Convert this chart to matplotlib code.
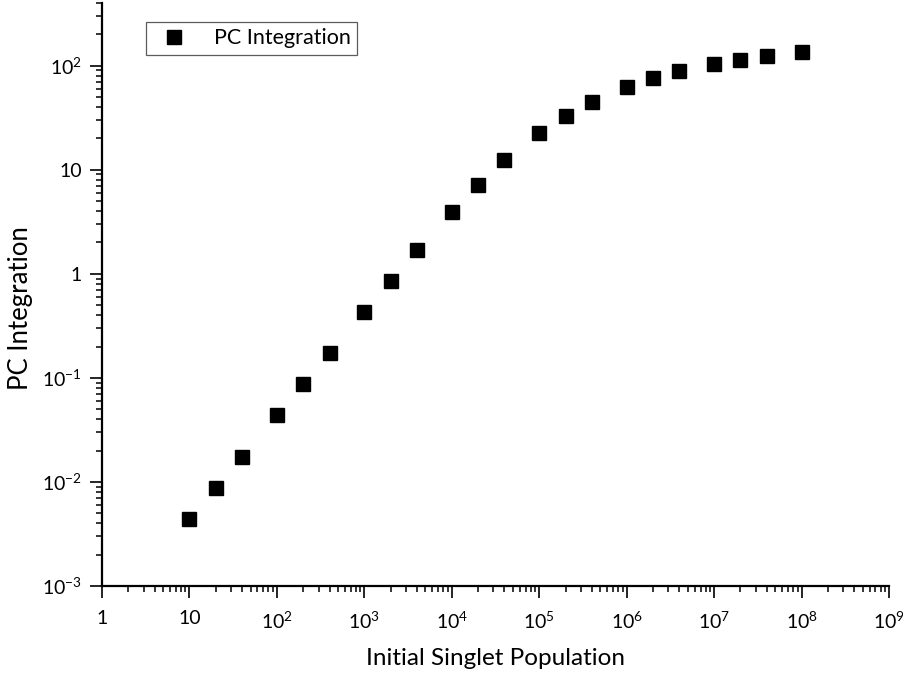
import math
import matplotlib
matplotlib.use("Agg")
import matplotlib.pyplot as plt
from matplotlib.ticker import LogLocator, FuncFormatter, NullFormatter, FixedLocator

plt.rcParams['font.family'] = ['Lato', 'DejaVu Sans']
plt.rcParams['mathtext.fontset'] = 'custom'
plt.rcParams['mathtext.rm'] = 'Lato'

# initial singlet population and integrated PC signal
population = [10, 20, 40, 1e2, 2e2, 4e2, 1e3, 2e3, 4e3, 1e4, 2e4, 4e4,
              1e5, 2e5, 4e5, 1e6, 2e6, 4e6, 1e7, 2e7, 4e7, 1e8]
pc_integration = [0.00438, 0.0088, 0.0175, 0.0438, 0.0875, 0.175, 0.434,
                  0.857, 1.675, 3.92, 7.17, 12.3, 22.5, 32.6, 44.4, 61.9,
                  75.5, 88.1, 103.0, 113.6, 124.0, 135.5]
x_decades = [10.0 ** e for e in range(0, 10)]
y_decades = [10.0 ** e for e in range(-3, 3)]


def decade_label(v, pos):
    exp = int(round(math.log10(v)))
    if exp == 0:
        return "1"
    if exp == 1:
        return "10"
    return r"$\mathregular{10^{%d}}$" % exp


fig = plt.figure(figsize=(9.04, 6.73), dpi=100)
ax = fig.add_axes([102 / 904, 1 - 586 / 673, 787 / 904, 583 / 673])

ax.plot(population, pc_integration, ls="none", marker="s", ms=9.5,
        mfc="black", mec="black", label="PC Integration")

ax.set_xscale("log")
ax.set_yscale("log")
ax.set_xlim(1, 1e9)
ax.set_ylim(1e-3, 400)

for side in ("top", "right"):
    ax.spines[side].set_visible(False)
for side in ("left", "bottom"):
    ax.spines[side].set_linewidth(1.6)

ax.xaxis.set_major_locator(FixedLocator(x_decades))
ax.yaxis.set_major_locator(FixedLocator(y_decades))
ax.xaxis.set_minor_locator(LogLocator(base=10, subs=range(2, 10), numticks=20))
ax.yaxis.set_minor_locator(LogLocator(base=10, subs=range(2, 10), numticks=20))
ax.xaxis.set_major_formatter(FuncFormatter(decade_label))
ax.yaxis.set_major_formatter(FuncFormatter(decade_label))
ax.xaxis.set_minor_formatter(NullFormatter())
ax.yaxis.set_minor_formatter(NullFormatter())
ax.tick_params(which="major", direction="out", length=8.5, width=1.2,
               labelsize=14)
ax.tick_params(axis="x", which="major", pad=9)
ax.tick_params(axis="y", which="major", pad=6)
ax.tick_params(which="minor", direction="out", length=4, width=1.1)

ax.set_xlabel("Initial Singlet Population", fontsize=17.5, labelpad=12)
ax.set_ylabel("PC Integration", fontsize=18.5)
ax.yaxis.set_label_coords(-69 / 787, 0.477)

leg = ax.legend(loc="upper left", bbox_to_anchor=(44 / 787, 1 - 19 / 583),
                fontsize=15.5, frameon=True, fancybox=False, handlelength=2.0,
                handletextpad=0.85, borderpad=0.3, borderaxespad=0)
leg.get_frame().set_edgecolor("#333333")
leg.get_frame().set_linewidth(0.9)

fig.savefig("out.png", dpi=100)
